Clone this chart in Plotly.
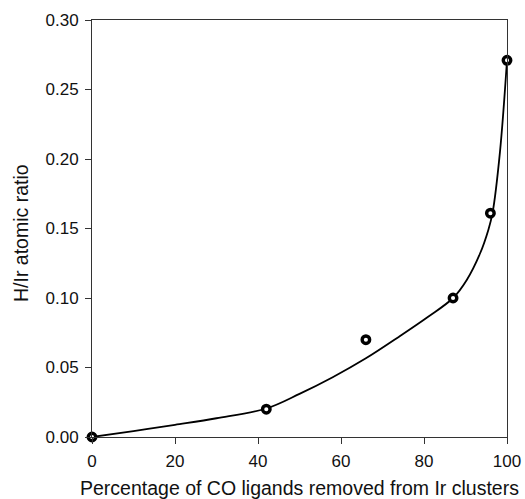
import plotly.graph_objects as go

# measured points
pts_x = [0, 42, 66, 87, 96, 100]
pts_y = [0.0, 0.020, 0.070, 0.100, 0.161, 0.271]

# fitted curve
curve_x = [0, 10, 20, 30, 42, 50, 58, 66, 74, 81, 87, 90.3, 93.5, 95.5, 96.5, 98.3, 100]
curve_y = [0.0, 0.0043, 0.0088, 0.0135, 0.0205, 0.031, 0.043, 0.0566, 0.0722, 0.0865,
           0.100, 0.113, 0.132, 0.149, 0.161, 0.205, 0.271]

x_ticks = [0, 20, 40, 60, 80, 100]
y_ticks = [0.00, 0.05, 0.10, 0.15, 0.20, 0.25, 0.30]
y_tick_text = ["0.00", "0.05", "0.10", "0.15", "0.20", "0.25", "0.30"]

font_family = "Liberation Sans, Arial, sans-serif"

fig = go.Figure()
fig.add_trace(go.Scatter(x=curve_x, y=curve_y, mode="lines",
                         line=dict(color="black", width=1.8, shape="spline", smoothing=1.0),
                         hoverinfo="skip", showlegend=False))
fig.add_trace(go.Scatter(x=pts_x, y=pts_y, mode="markers",
                         marker=dict(symbol="circle", size=7.5, color="white",
                                     line=dict(color="black", width=3.4)),
                         showlegend=False, cliponaxis=False))

fig.update_layout(
    width=525, height=499,
    margin=dict(l=92, r=18, t=20, b=62),
    paper_bgcolor="white", plot_bgcolor="white",
    font=dict(family=font_family, size=17, color="#111"),
    xaxis=dict(range=[0, 100], tickvals=x_ticks, ticks="outside", ticklen=6,
               tickcolor="#333", showline=True, linecolor="#333", linewidth=1,
               mirror=True, showgrid=False, zeroline=False, ticklabelstandoff=3,
               automargin=False),
    yaxis=dict(range=[0, 0.30], tickvals=y_ticks, ticktext=y_tick_text,
               ticks="outside", ticklen=6, tickcolor="#333", ticklabelstandoff=3,
               showline=True, linecolor="#333", linewidth=1, mirror=True,
               showgrid=False, zeroline=False, automargin=False),
    annotations=[
        dict(text="H/Ir atomic ratio", textangle=-90, xref="paper", yref="paper",
             x=(21 - 92) / 415, y=(437 - 233) / 417, showarrow=False,
             xanchor="center", yanchor="middle", font=dict(size=19.5)),
        dict(text="Percentage of CO ligands removed from Ir clusters",
             xref="paper", yref="paper", x=(299 - 92) / 415, y=(437 - 488) / 417,
             showarrow=False, xanchor="center", yanchor="middle", font=dict(size=19.5)),
    ],
)

fig.write_html("out.html")
